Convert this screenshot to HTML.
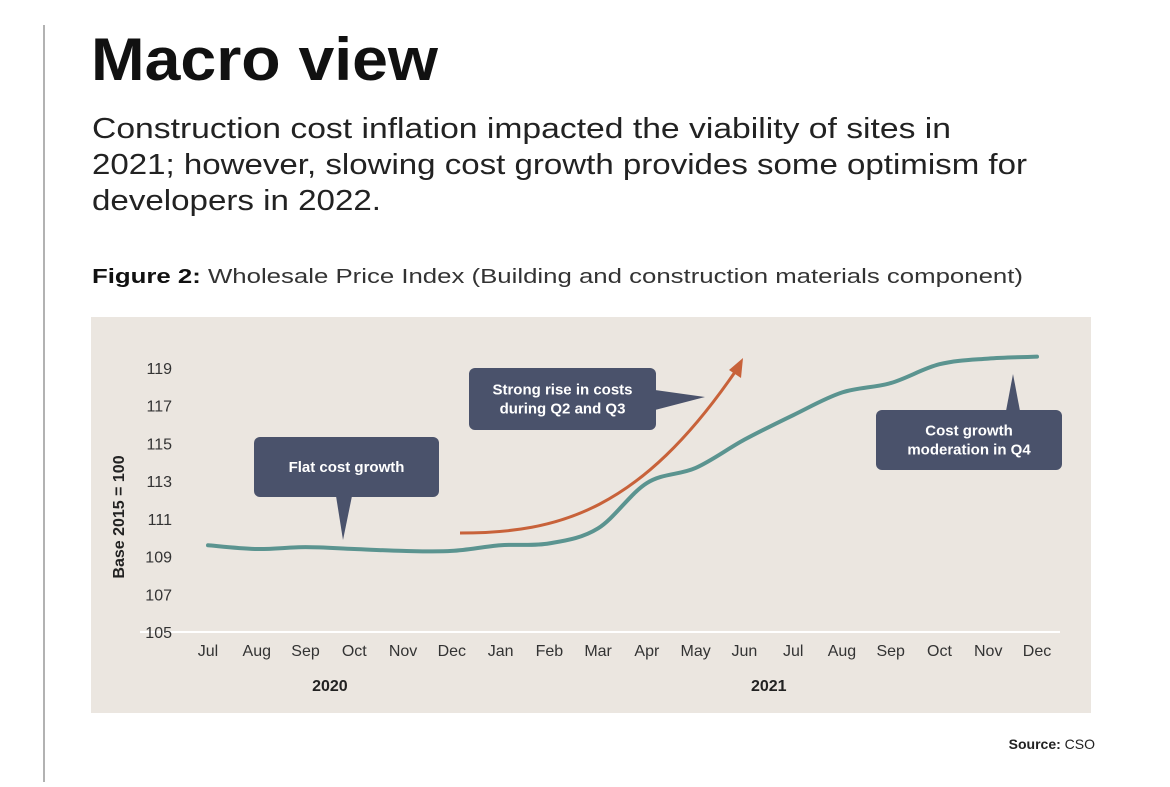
<!DOCTYPE html>
<html><head><meta charset="utf-8"><style>
html,body{margin:0;padding:0;background:#fff;}
body{width:1170px;height:782px;overflow:hidden;position:relative;font-family:"Liberation Sans",sans-serif;}
</style></head><body>
<svg width="1170" height="782" viewBox="0 0 1170 782" xmlns="http://www.w3.org/2000/svg">
<line x1="44" y1="25" x2="44" y2="782" stroke="#999" stroke-width="1.5"/>
<text x="91" y="80" font-size="60" font-weight="bold" fill="#111" textLength="347" lengthAdjust="spacingAndGlyphs">Macro view</text>
<g font-size="29" fill="#222">
<text x="92" y="138" textLength="859" lengthAdjust="spacingAndGlyphs">Construction cost inflation impacted the viability of sites in</text>
<text x="92" y="174" textLength="935" lengthAdjust="spacingAndGlyphs">2021; however, slowing cost growth provides some optimism for</text>
<text x="92" y="210" textLength="289" lengthAdjust="spacingAndGlyphs">developers in 2022.</text></g>
<text x="92" y="283" font-size="20" fill="#333" textLength="931" lengthAdjust="spacingAndGlyphs"><tspan font-weight="bold" fill="#111">Figure 2:</tspan> Wholesale Price Index (Building and construction materials component)</text>
<rect x="91" y="317" width="1000" height="396" fill="#ebe6e0"/>
<g id="chart"></g>
<text x="1095" y="749" font-size="14" fill="#222" text-anchor="end"><tspan font-weight="bold">Source:</tspan> CSO</text>
</svg>
<script>
const months=["Jul","Aug","Sep","Oct","Nov","Dec","Jan","Feb","Mar","Apr","May","Jun","Jul","Aug","Sep","Oct","Nov","Dec"];
const values=[109.6,109.4,109.5,109.4,109.3,109.3,109.6,109.7,110.5,112.9,113.7,115.2,116.5,117.7,118.2,119.2,119.5,119.6];
const yTicks=[105,107,109,111,113,115,117,119];
const years=["2020","2021"];
const NS="http://www.w3.org/2000/svg";
const g=document.getElementById('chart');
const x=i=>208+i*(1037-208)/17;
const y=v=>632-(v-105)*(632-368)/14;
function el(t,a,txt){const e=document.createElementNS(NS,t);for(const k in a)e.setAttribute(k,a[k]);if(txt!=null)e.textContent=txt;g.appendChild(e);return e;}
let e=el('line',{x1:140,y1:632,x2:1060,y2:632,stroke:'#fff','stroke-width':2});


yTicks.forEach(v=>{const t=el('text',{x:172,y:y(v)+6,'font-size':16,fill:'#333','text-anchor':'end'},v);

});
months.forEach((m,i)=>{const t=el('text',{x:x(i),y:656,'font-size':16,fill:'#333','text-anchor':'middle'},m);

});
[[x(2.5),years[0]],[x(11.5),years[1]]].forEach(([px,s])=>{const t=el('text',{x:px,y:691,'font-size':16,'font-weight':'bold',fill:'#222','text-anchor':'middle'},s);

});
const yt=el('text',{x:0,y:0,'font-size':16,'font-weight':'bold',fill:'#222','text-anchor':'middle',transform:'translate(124,517) rotate(-90)'},'Base 2015 = 100');


const pts=values.map((v,i)=>[x(i),y(v)]);
let d='M'+pts[0];
for(let i=0;i<pts.length-1;i++){const p0=pts[Math.max(0,i-1)],p1=pts[i],p2=pts[i+1],p3=pts[Math.min(pts.length-1,i+2)];
d+=` C${p1[0]+(p2[0]-p0[0])/6},${p1[1]+(p2[1]-p0[1])/6} ${p2[0]-(p3[0]-p1[0])/6},${p2[1]-(p3[1]-p1[1])/6} ${p2[0]},${p2[1]}`;}
const ln=el('path',{d:d,fill:'none',stroke:'#5b9490','stroke-width':4,'stroke-linecap':'round'});


const ar=el('path',{d:'M460,533 C560,533 640,510 735,372',fill:'none',stroke:'#c8623a','stroke-width':3});


const ah=el('path',{d:'M743,358 L741,378 L729,370 Z',fill:'#c8623a'});


function bubble(name,bx,by,w,h,tail,lines){
const r=el('rect',{x:bx,y:by,width:w,height:h,rx:6,fill:'#4a526b'});


const tl=el('path',{d:tail,fill:'#4a526b'});


lines.forEach((s,k)=>{const t=el('text',{x:bx+w/2,y:by+h/2+5+(k-(lines.length-1)/2)*19,'font-size':15,'font-weight':'bold',fill:'#fff','text-anchor':'middle'},s);

});}
bubble('flat-callout',254,437,185,60,'M336,496 L343,540 L352,496 Z',['Flat cost growth']);
bubble('strong-rise-callout',469,368,187,62,'M655,390 L705,397 L655,410 Z',['Strong rise in costs','during Q2 and Q3']);
bubble('moderation-callout',876,410,186,60,'M1006,411 L1013,374 L1020,411 Z',['Cost growth','moderation in Q4']);
</script>
</body></html>
